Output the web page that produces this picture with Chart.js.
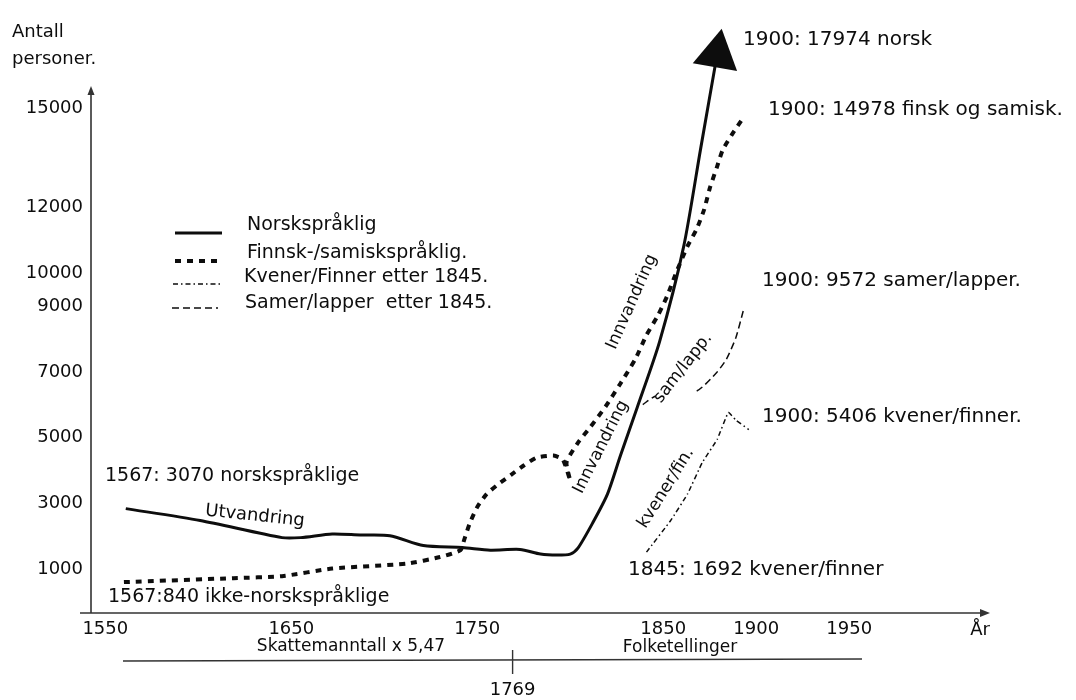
<!DOCTYPE html>
<html>
<head>
<meta charset="utf-8">
<script src="https://cdn.jsdelivr.net/npm/chart.js@4/dist/chart.umd.min.js"></script>
<style>
html, body { margin: 0; padding: 0; background: #fff; }
#wrap { width: 1076px; height: 700px; }
</style>
</head>
<body>
<div id="wrap"><canvas id="myChart"></canvas></div>
<script>
// tick labels
const xTicks = [1550, 1650, 1750, 1850, 1900, 1950];
const yTicks = [1000, 3000, 5000, 7000, 9000, 10000, 12000, 15000];

const seriesNames = ['Norskspråklig', 'Finnsk-/samiskspråklig.', 'Kvener/Finner etter 1845.', 'Samer/lapper  etter 1845.'];

const norskYears  = [1561, 1601, 1645, 1655, 1672, 1687, 1703, 1721, 1742, 1757, 1773, 1784, 1793, 1800, 1804, 1812, 1820, 1827, 1836, 1848, 1861, 1870, 1879];
const norskValues = [2850, 2490, 1970, 1970, 2080, 2050, 2030, 1730, 1670, 1590, 1610, 1470, 1440, 1470, 1640, 2410, 3290, 4460, 5920, 7910, 10810, 13740, 16640];

const finnskYears  = [1560, 1619, 1645, 1672, 1712, 1730, 1741, 1743, 1746, 1750, 1755, 1761, 1768, 1775, 1782, 1791, 1796, 1800, 1798, 1804, 1811, 1819, 1827, 1835, 1841, 1847, 1852, 1857, 1863, 1868, 1872, 1875, 1879, 1882, 1887, 1893];
const finnskValues = [620, 740, 800, 1030, 1180, 1380, 1590, 1910, 2410, 2900, 3290, 3580, 3870, 4160, 4400, 4460, 4340, 3700, 4250, 4840, 5340, 5950, 6650, 7390, 8120, 8700, 9290, 10020, 10810, 11340, 11930, 12570, 13240, 13740, 14210, 14710];

const kvenerYears  = [1841, 1854, 1863, 1871, 1879, 1885, 1889, 1896];
const kvenerValues = [1530, 2490, 3290, 4250, 4950, 5770, 5540, 5250];

const samerYears  = [1839, 1846, 1868, 1879, 1884, 1889, 1893];
const samerValues = [6010, 6270, 6420, 7000, 7390, 8030, 8850];

const toPoints = (xs, ys) => xs.map((x, i) => ({x: x, y: ys[i]}));

const FONT = '"DejaVu Sans", "Liberation Sans", sans-serif';
const INK = '#0d0d0d';

const lineStyles = [
  {width: 3, dash: []},
  {width: 4, dash: [6, 6]},
  {width: 1.5, dash: [5, 3, 1.5, 3]},
  {width: 1.5, dash: [7, 4]}
];

// text on the drawing: [text, x, y, size, rotation, align]
const notes = [
  ['Antall', 12, 32, 18, 0, 'left'],
  ['personer.', 12, 59, 18, 0, 'left'],
  ['1900: 17974 norsk', 743, 40, 20, 0, 'left'],
  ['1900: 14978 finsk og samisk.', 768, 110, 20, 0, 'left'],
  ['1900: 9572 samer/lapper.', 762, 281, 20, 0, 'left'],
  ['1900: 5406 kvener/finner.', 762, 417, 20, 0, 'left'],
  ['1845: 1692 kvener/finner', 628, 570, 20, 0, 'left'],
  ['1567: 3070 norskspråklige', 105, 476, 19, 0, 'left'],
  ['1567:840 ikke-norskspråklige', 108, 597, 19, 0, 'left'],
  ['Utvandring', 255, 516, 18, 6, 'center'],
  ['Innvandring', 632, 302, 17, -66, 'center'],
  ['Innvandring', 601, 447, 17, -63, 'center'],
  ['sam/lapp.', 683, 368, 17, -52, 'center'],
  ['kvener/fin.', 666, 488, 17, -58, 'center'],
  ['År', 980, 630, 18, 0, 'center'],
  ['Skattemanntall x 5,47', 351, 647, 17, 0, 'center'],
  ['Folketellinger', 680, 648, 17, 0, 'center']
];

const extras = {
  id: 'extras',
  beforeDatasetsDraw(chart) {
    const {ctx, chartArea, scales} = chart;
    const xa = chartArea.left, yb = chartArea.bottom;
    const yTop = scales.y.getPixelForValue(15680);
    const xEnd = chartArea.right;
    ctx.save();
    ctx.strokeStyle = '#333';
    ctx.fillStyle = '#333';
    ctx.lineWidth = 1.6;
    ctx.beginPath();
    ctx.moveTo(xa, yb);
    ctx.lineTo(xa, yTop + 6);
    ctx.moveTo(80, yb);
    ctx.lineTo(xEnd - 6, yb);
    ctx.stroke();
    ctx.beginPath();
    ctx.moveTo(xa, yTop);
    ctx.lineTo(xa - 3.5, yTop + 9);
    ctx.lineTo(xa + 3.5, yTop + 9);
    ctx.closePath();
    ctx.fill();
    ctx.beginPath();
    ctx.moveTo(xEnd, yb);
    ctx.lineTo(xEnd - 10, yb - 4);
    ctx.lineTo(xEnd - 10, yb + 4);
    ctx.closePath();
    ctx.fill();
    // source line below the axis
    const xTick = scales.x.getPixelForValue(1769);
    ctx.lineWidth = 1.4;
    ctx.beginPath();
    ctx.moveTo(123, 661);
    ctx.lineTo(862, 659);
    ctx.moveTo(xTick, 650);
    ctx.lineTo(xTick, 674);
    ctx.stroke();
    ctx.fillStyle = INK;
    ctx.font = '18px ' + FONT;
    ctx.textAlign = 'center';
    ctx.textBaseline = 'middle';
    ctx.fillText('1769', xTick, 690);
    ctx.restore();
  },
  afterDatasetsDraw(chart) {
    const {ctx} = chart;
    ctx.save();
    ctx.fillStyle = INK;
    ctx.textBaseline = 'middle';
    notes.forEach(n => {
      ctx.save();
      ctx.font = n[3] + 'px ' + FONT;
      ctx.textAlign = n[5];
      ctx.translate(n[1], n[2]);
      ctx.rotate(n[4] * Math.PI / 180);
      ctx.fillText(n[0], 0, 0);
      ctx.restore();
    });
    // legend
    const rows = [[175, 222, 233, 247, 225], [175, 218, 261, 247, 253], [173, 222, 284, 244, 277], [172, 218, 308, 245, 303]];
    rows.forEach((r, i) => {
      ctx.strokeStyle = INK;
      ctx.lineWidth = lineStyles[i].width;
      ctx.setLineDash(lineStyles[i].dash);
      ctx.beginPath();
      ctx.moveTo(r[0], r[2]);
      ctx.lineTo(r[1], r[2]);
      ctx.stroke();
      ctx.setLineDash([]);
      ctx.font = '19px ' + FONT;
      ctx.textAlign = 'left';
      ctx.fillText(seriesNames[i], r[3], r[4]);
    });
    ctx.restore();
  }
};

const lastNorsk = norskYears.length - 1;

new Chart(document.getElementById('myChart'), {
  type: 'line',
  data: {
    datasets: [
      {
        label: seriesNames[0],
        data: toPoints(norskYears, norskValues),
        borderColor: INK,
        borderWidth: lineStyles[0].width,
        tension: 0.25,
        pointStyle: 'triangle',
        pointRadius: ctx => ctx.dataIndex === lastNorsk ? 26 : 0,
        pointRotation: 10,
        pointBackgroundColor: INK,
        pointBorderColor: INK,
        pointBorderWidth: 0
      },
      {
        label: seriesNames[1],
        data: toPoints(finnskYears, finnskValues),
        borderColor: INK,
        borderWidth: lineStyles[1].width,
        borderDash: lineStyles[1].dash,
        tension: 0.2,
        pointRadius: 0
      },
      {
        label: seriesNames[2],
        data: toPoints(kvenerYears, kvenerValues),
        borderColor: INK,
        borderWidth: lineStyles[2].width,
        borderDash: lineStyles[2].dash,
        tension: 0.1,
        pointRadius: 0
      },
      {
        label: seriesNames[3],
        data: toPoints(samerYears, samerValues),
        borderColor: INK,
        borderWidth: lineStyles[3].width,
        borderDash: lineStyles[3].dash,
        tension: 0.2,
        pointRadius: 0,
        segment: {
          borderColor: ctx => ctx.p0DataIndex === 1 ? 'rgba(0,0,0,0)' : INK
        }
      }
    ]
  },
  options: {
    responsive: true,
    maintainAspectRatio: false,
    animation: false,
    layout: { padding: { top: 5, right: 86, left: 0, bottom: 0 } },
    plugins: {
      legend: { display: false },
      tooltip: { enabled: false }
    },
    elements: { line: { borderCapStyle: 'butt' } },
    scales: {
      x: {
        type: 'linear',
        min: 1542.3,
        max: 2025.7,
        grid: { display: false, drawTicks: false },
        border: { display: false },
        afterBuildTicks: scale => { scale.ticks = xTicks.map(v => ({value: v})); },
        afterFit: scale => { scale.height = 87; },
        ticks: {
          padding: 6,
          maxRotation: 0,
          autoSkip: false,
          color: INK,
          font: { family: FONT, size: 18 },
          callback: v => String(v)
        }
      },
      y: {
        min: -318,
        max: 17500,
        grid: { display: false, drawTicks: false },
        border: { display: false },
        afterBuildTicks: scale => { scale.ticks = yTicks.map(v => ({value: v})); },
        afterFit: scale => { scale.width = 91; },
        ticks: {
          padding: 8,
          autoSkip: false,
          color: INK,
          font: { family: FONT, size: 18 },
          callback: v => String(v)
        }
      }
    }
  },
  plugins: [extras]
});
</script>
</body>
</html>
